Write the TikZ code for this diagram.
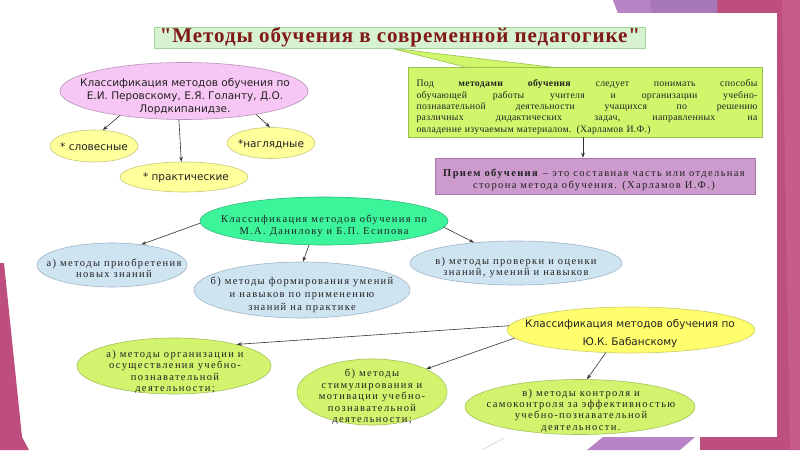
\documentclass[tikz,border=0pt]{standalone}
\usepackage{fontspec}
\setmainfont{Liberation Serif}
\newfontfamily\myserf[LetterSpace=13]{Liberation Serif}
\newfontfamily\mydeff[LetterSpace=3]{Liberation Serif}
\newfontfamily\mytitf[LetterSpace=4.5]{Liberation Serif}
\newfontfamily\mysansf{DejaVu Sans}
\usetikzlibrary{shapes.geometric,arrows.meta}
\definecolor{pinkfill}{HTML}{F7C6F4}\definecolor{pinkdraw}{HTML}{B595B8}
\definecolor{yelfill}{HTML}{FFFF9C}\definecolor{yeldraw}{HTML}{C9C77A}
\definecolor{grnfill}{HTML}{3CF59B}\definecolor{grndraw}{HTML}{2FB87A}
\definecolor{blufill}{HTML}{CFE4F1}\definecolor{bludraw}{HTML}{9FB5C6}
\definecolor{babfill}{HTML}{FFFF6E}\definecolor{babdraw}{HTML}{CCCC66}
\definecolor{limfill}{HTML}{D3F26D}\definecolor{limdraw}{HTML}{A3C25A}
\definecolor{deffill}{HTML}{D0F76C}\definecolor{defdraw}{HTML}{98C050}
\definecolor{prifill}{HTML}{CC9ACC}\definecolor{pridraw}{HTML}{A878A8}
\definecolor{titfill}{HTML}{D6F2D0}\definecolor{titdraw}{HTML}{9FD49A}
\definecolor{tittext}{HTML}{801818}
\definecolor{txtc}{HTML}{222222}
\definecolor{slpink}{HTML}{BE4E7D}
\definecolor{slpinkB}{HTML}{C65C8A}
\definecolor{slpurp}{HTML}{A678B8}
\definecolor{slpurpB}{HTML}{B884C6}
\begin{document}
\begin{tikzpicture}[x=1pt,y=-1pt,
  arr/.style={draw=black!80, line width=0.6pt, -{Stealth[length=5pt,width=3.6pt]}},
  ellbase/.style={ellipse, inner sep=0pt, line width=0.6pt},
  pinkell/.style={ellbase, fill=pinkfill, draw=pinkdraw},
  yelell/.style={ellbase, fill=yelfill, draw=yeldraw},
  grnell/.style={ellbase, fill=grnfill, draw=grndraw},
  bluell/.style={ellbase, fill=blufill, draw=bludraw},
  babell/.style={ellbase, fill=babfill, draw=babdraw},
  limell/.style={ellbase, fill=limfill, draw=limdraw},
  txs/.style={align=center, inner sep=0pt, text=txtc, font=\mysansf\fontsize{10.5pt}{13pt}\selectfont},
  txr/.style={align=center, inner sep=0pt, text=txtc, font=\myserf\fontsize{10.5pt}{11.4pt}\selectfont},
  titlebox/.style={rectangle, fill=titfill, draw=titdraw, line width=0.6pt, inner sep=0pt},
  defbox/.style={rectangle, fill=deffill, draw=defdraw, line width=0.6pt, inner sep=0pt},
  pribox/.style={rectangle, fill=prifill, draw=pridraw, line width=0.6pt, inner sep=0pt}
]
\useasboundingbox (0,0) rectangle (800,450);
% slide background
\fill[white] (0,0) rectangle (800,450);
\fill[slpink] (700,0) rectangle (800,450);
\fill[slpinkB] (782,0) -- (800,0) -- (800,450) -- (790,450) -- cycle;
\fill[slpurp] (613,0) -- (717,0) -- (717,13) -- (618,13) -- cycle;
\fill[slpurpB] (613,0) -- (650,0) -- (652,13) -- (618,13) -- cycle;
\fill[slpurpB] (603,437) -- (695,437) -- (680,450) -- (587,450) -- cycle;
\fill[white] (15,13) rectangle (777,437);
\fill[slpink] (0,263) -- (4,263) -- (22,437) -- (29,450) -- (0,450) -- cycle;
\draw[black!20, line width=0.5pt] (482,450) -- (504,438);

% callout wedge
\filldraw[fill=deffill, draw=defdraw, line width=0.6pt] (390,48) -- (467,67.5) -- (555,67.5) -- cycle;
% title
\node[titlebox, minimum width=491pt, minimum height=21pt] (title) at (400,37.5)
  {\color{tittext}\mytitf\fontsize{21pt}{22pt}\selectfont\bfseries \symbol{34}Методы обучения в современной педагогике\symbol{34}};

% definition box
\node[defbox, minimum width=354pt, minimum height=70pt] (def) at (585,102) {};
\node[txr, align=left, text width=341pt, font=\mydeff\fontsize{9.8pt}{11.3pt}\selectfont] (deft) at (587,107) {%
\makebox[341pt][l]{Под\hfill\textbf{методами}\hfill\textbf{обучения}\hfill следует\hfill понимать\hfill способы}\\
\makebox[341pt][l]{обучающей\hfill работы\hfill учителя\hfill и\hfill организации\hfill учебно-}\\
\makebox[341pt][l]{познавательной\hfill деятельности\hfill учащихся\hfill по\hfill решению}\\
\makebox[341pt][l]{различных\hfill дидактических\hfill задач,\hfill направленных\hfill на}\\
овладение изучаемым материалом. (Харламов И.Ф.)};
% priem box
\node[pribox, minimum width=320pt, minimum height=36pt] (pri) at (595,176) {};
\node[txr] (prit) at (594,180) {\textbf{Прием обучения} – это составная часть или отдельная\\сторона метода обучения. (Харламов И.Ф.)};
\draw[arr] (def.south -| 583,0) -- (pri.north -| 583,0);

% Perovsky classification
\node[pinkell, minimum width=248pt, minimum height=57pt] (p) at (184,91) {};
\node[txs] (pt) at (185,97) {Классификация методов обучения по\\Е.И. Перовскому, Е.Я. Голанту, Д.О.\\Лордкипанидзе.};
\node[yelell, minimum width=88pt, minimum height=32pt] (s1) at (94,146) {};
\node[txs] (s1t) at (94,147) {* словесные};
\node[yelell, minimum width=128pt, minimum height=30pt] (s2) at (184,177) {};
\node[txs] (s2t) at (186,178) {* практические};
\node[yelell, minimum width=88pt, minimum height=31pt] (s3) at (271,143) {};
\node[txs] (s3t) at (271,144) {*наглядные};
\draw[arr] (p.201) -- (s1.61);
\draw[arr] (p.260) -- (s2.100);
\draw[arr] (p.342) -- (s3.94);

% Danilov classification
\node[grnell, minimum width=248pt, minimum height=48pt] (g) at (324,221) {};
\node[txr] (gt) at (324,226) {Классификация методов обучения по\\М.А. Данилову и Б.П. Есипова};
\node[bluell, minimum width=150pt, minimum height=44pt] (b1) at (112,265) {};
\node[txr] (b1t) at (114,268) {а) методы приобретения\\новых знаний};
\node[bluell, minimum width=216pt, minimum height=56pt] (b2) at (302,290) {};
\node[txr, font=\myserf\fontsize{10.5pt}{13pt}\selectfont] (b2t) at (302,295) {б) методы формирования умений\\и навыков по применению\\знаний на практике};
\node[bluell, minimum width=212pt, minimum height=44pt] (b3) at (516,263) {};
\node[txr] (b3t) at (516,267.5) {в) методы проверки и оценки\\знаний, умений и навыков};
\draw[arr] (g.181) -- (b1.35);
\draw[arr] (g.238) -- (b2.88);
\draw[arr] (g.357) -- (b3.154);

% Babansky classification
\node[babell, minimum width=248pt, minimum height=46pt] (y) at (631,330) {};
\node[txs, font=\mysansf\fontsize{10.5pt}{18pt}\selectfont] (yt) at (630,334) {Классификация методов обучения по\\Ю.К. Бабанскому};
\node[limell, minimum width=194pt, minimum height=56pt] (l1) at (174,366) {};
\node[txr] (l1t) at (175,372) {а) методы организации и\\осуществления учебно-\\познавательной\\деятельности;};
\node[limell, minimum width=150pt, minimum height=66pt] (l2) at (372,392) {};
\node[txr] (l2t) at (372,397) {б) методы\\стимулирования и\\мотивации учебно-\\познавательной\\деятельности;};
\node[limell, minimum width=230pt, minimum height=55pt] (l3) at (580,407) {};
\node[txr] (l3t) at (581,410.5) {в) методы контроля и\\самоконтроля за эффективностью\\учебно-познавательной\\деятельности.};
\draw[arr] (y.178) -- (l1.19);
\draw[arr] (y.184) -- (l2.23);
\draw[arr] (y.222) -- (l3.76);
\end{tikzpicture}
\end{document}
